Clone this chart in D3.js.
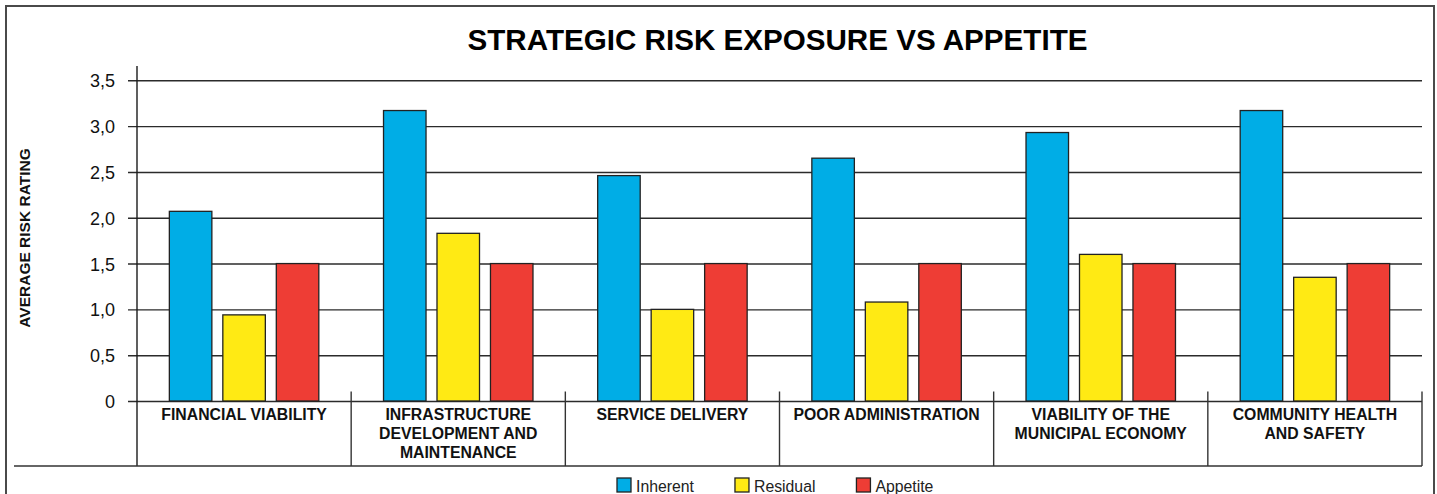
<!DOCTYPE html>
<html>
<head>
<meta charset="utf-8">
<script src="https://cdn.jsdelivr.net/npm/d3@7"></script>
<style>
  html, body { margin: 0; padding: 0; background: #fff; }
  svg { display: block; font-family: "Liberation Sans", Arial, Helvetica, sans-serif; }
</style>
</head>
<body>
<svg id="chart" width="1437" height="494"></svg>
<script>
// Categories (each entry holds the wrapped lines of its label)
const categories = [
  ["FINANCIAL VIABILITY"],
  ["INFRASTRUCTURE", "DEVELOPMENT AND", "MAINTENANCE"],
  ["SERVICE DELIVERY"],
  ["POOR ADMINISTRATION"],
  ["VIABILITY OF THE", "MUNICIPAL ECONOMY"],
  ["COMMUNITY HEALTH", "AND SAFETY"]
];

// Average risk rating per category
const inherent = [2.07, 3.17, 2.46, 2.65, 2.93, 3.17];
const residual = [0.94, 1.83, 1.00, 1.08, 1.60, 1.35];
const appetite = [1.50, 1.50, 1.50, 1.50, 1.50, 1.50];

const seriesNames = ["Inherent", "Residual", "Appetite"];
const seriesColors = ["#00ade6", "#ffea14", "#ee3d35"];

// Y-axis ticks and their labels (decimal comma)
const yTicks = [0, 0.5, 1.0, 1.5, 2.0, 2.5, 3.0, 3.5];
const yTickLabels = ["0", "0,5", "1,0", "1,5", "2,0", "2,5", "3,0", "3,5"];

const svg = d3.select("#chart");
const W = 1437, H = 494;

const plotLeft = 137, plotRight = 1422;
const zeroY = 401, topY = 80.3;
const axisTop = 66, baseY = 466;

const x = d3.scaleBand()
  .domain(d3.range(categories.length))
  .range([plotLeft, plotRight])
  .paddingInner(0).paddingOuter(0);

const xSeries = d3.scaleBand()
  .domain(seriesNames)
  .range([0, x.bandwidth()])
  .paddingInner(0.205)
  .paddingOuter(0.605);

const y = d3.scaleLinear().domain([0, 3.5]).range([zeroY, topY]);

// Outer frame (open at the bottom)
svg.append("path")
  .attr("d", `M6,${H + 5} L6,6 L1434,6 L1434,${H + 5}`)
  .attr("fill", "none")
  .attr("stroke", "#4a4a4a")
  .attr("stroke-width", 2);

// Title
svg.append("text")
  .attr("x", (plotLeft + plotRight) / 2 - 2)
  .attr("y", 50)
  .attr("text-anchor", "middle")
  .attr("font-weight", "bold")
  .attr("font-size", 29.6)
  .attr("fill", "#000")
  .text("STRATEGIC RISK EXPOSURE VS APPETITE");

// Gridlines with tick marks and labels
const yAxis = d3.axisLeft(y)
  .tickValues(yTicks)
  .tickFormat((d, i) => yTickLabels[i])
  .tickSize(-(plotRight - plotLeft))
  .tickPadding(0);

const gY = svg.append("g")
  .attr("transform", `translate(${plotLeft},0)`)
  .call(yAxis);
gY.select(".domain").remove();
gY.selectAll(".tick line")
  .attr("x1", -9)
  .attr("stroke", "#2b2b2b")
  .attr("stroke-width", 1.4);
gY.selectAll(".tick text")
  .attr("x", -22)
  .attr("dy", "0.36em")
  .attr("font-size", 18)
  .attr("font-family", "\"Liberation Sans\", Arial, sans-serif")
  .attr("fill", "#111");

// Y axis line
svg.append("line")
  .attr("x1", plotLeft).attr("x2", plotLeft)
  .attr("y1", axisTop).attr("y2", baseY)
  .attr("stroke", "#1a1a1a").attr("stroke-width", 1.4);

// Bottom line of the category table
svg.append("line")
  .attr("x1", 14).attr("x2", plotRight)
  .attr("y1", baseY).attr("y2", baseY)
  .attr("stroke", "#333").attr("stroke-width", 1.6);

// Category dividers
svg.append("g").selectAll("line")
  .data(d3.range(1, categories.length + 1))
  .join("line")
  .attr("x1", i => i < categories.length ? x(i) : plotRight)
  .attr("x2", i => i < categories.length ? x(i) : plotRight)
  .attr("y1", 391.5).attr("y2", baseY)
  .attr("stroke", "#333").attr("stroke-width", 1.4);

// Bars
const rows = categories.map((c, i) => [
  { series: "Inherent", value: inherent[i] },
  { series: "Residual", value: residual[i] },
  { series: "Appetite", value: appetite[i] }
]);
const color = d3.scaleOrdinal().domain(seriesNames).range(seriesColors);

svg.append("g").selectAll("g")
  .data(rows)
  .join("g")
  .attr("transform", (d, i) => `translate(${x(i)},0)`)
  .selectAll("rect")
  .data(d => d)
  .join("rect")
  .attr("x", d => xSeries(d.series))
  .attr("width", xSeries.bandwidth())
  .attr("y", d => y(d.value))
  .attr("height", d => y(0) - y(d.value))
  .attr("fill", d => color(d.series))
  .attr("stroke", "#222")
  .attr("stroke-width", 1.3);

// Category labels
const labels = svg.append("g").selectAll("text")
  .data(categories)
  .join("text")
  .attr("x", (d, i) => x(i) + x.bandwidth() / 2)
  .attr("y", 420)
  .attr("text-anchor", "middle")
  .attr("font-weight", "bold")
  .attr("font-size", 15.8)
  .attr("fill", "#111");
labels.selectAll("tspan")
  .data(d => d)
  .join("tspan")
  .attr("x", function () { return d3.select(this.parentNode).attr("x"); })
  .attr("dy", (d, j) => j === 0 ? 0 : 19)
  .text(d => d);

// Y axis title
svg.append("text")
  .attr("transform", "translate(29.5,238) rotate(-90)")
  .attr("text-anchor", "middle")
  .attr("font-weight", "bold")
  .attr("font-size", 15.5)
  .attr("fill", "#111")
  .text("AVERAGE RISK RATING");

// Legend
const legend = svg.append("g");
let lx = 617;
seriesNames.forEach((name, i) => {
  const item = legend.append("g").attr("transform", `translate(${lx},478)`);
  item.append("rect")
    .attr("width", 14).attr("height", 14)
    .attr("fill", seriesColors[i])
    .attr("stroke", "#222").attr("stroke-width", 1.3);
  const t = item.append("text")
    .attr("x", 19).attr("y", 13.5)
    .attr("font-size", 15.8)
    .attr("fill", "#222")
    .text(name);
  lx += 19 + t.node().getComputedTextLength() + 41;
});
</script>
</body>
</html>
